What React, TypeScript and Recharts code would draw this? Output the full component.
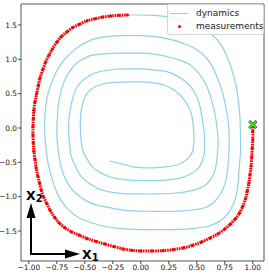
import React from "react";
import { ScatterChart, Scatter, XAxis, YAxis, ReferenceArea } from "recharts";

const xTicks = [-1, -0.75, -0.5, -0.25, 0, 0.25, 0.5, 0.75, 1];
const yTicks = [-1.5, -1, -0.5, 0, 0.5, 1, 1.5];
const seriesNames = ["dynamics", "measurements"];
const axisLabels = ["X", "1", "X", "2"];

// measured states, clockwise from the initial state
const measurements: [number, number][] = [
  [1.0, 0.05], [1.0, -0.05], [1.0, -0.17], [0.995, -0.3], [0.99, -0.42], [0.985, -0.55],
  [0.975, -0.68], [0.965, -0.8], [0.95, -0.92], [0.935, -1.03], [0.91, -1.14], [0.88, -1.24],
  [0.845, -1.32], [0.8, -1.4], [0.75, -1.47], [0.69, -1.54], [0.62, -1.6], [0.54, -1.66],
  [0.46, -1.71], [0.38, -1.745], [0.29, -1.77], [0.2, -1.785], [0.1, -1.79], [0.0, -1.79],
  [-0.08, -1.78], [-0.16, -1.76], [-0.24, -1.725], [-0.32, -1.69], [-0.4, -1.65], [-0.48, -1.61],
  [-0.55, -1.56], [-0.62, -1.51], [-0.68, -1.45], [-0.73, -1.38], [-0.77, -1.3], [-0.81, -1.2],
  [-0.84, -1.1], [-0.87, -1.0], [-0.89, -0.9], [-0.905, -0.8], [-0.92, -0.7], [-0.935, -0.58],
  [-0.945, -0.46], [-0.955, -0.34], [-0.96, -0.22], [-0.963, -0.1], [-0.963, 0.02], [-0.96, 0.14],
  [-0.955, 0.26], [-0.945, 0.38], [-0.93, 0.5], [-0.915, 0.62], [-0.9, 0.73], [-0.875, 0.85],
  [-0.85, 0.96], [-0.82, 1.06], [-0.79, 1.15], [-0.75, 1.25], [-0.71, 1.33], [-0.66, 1.4],
  [-0.61, 1.46], [-0.55, 1.51], [-0.48, 1.56], [-0.41, 1.59], [-0.34, 1.615], [-0.27, 1.63],
  [-0.2, 1.64], [-0.12, 1.645],
];

// simulated trajectory continuing from the last measurement
const dynamics: [number, number][] = [
  [-0.12, 1.645], [0.0, 1.645], [0.12, 1.64], [0.23, 1.62], [0.35, 1.58], [0.47, 1.52],
  [0.56, 1.45], [0.65, 1.34], [0.72, 1.2], [0.77, 1.04], [0.81, 0.86], [0.85, 0.62],
  [0.87, 0.4], [0.885, 0.16], [0.89, -0.1], [0.89, -0.35], [0.88, -0.55], [0.87, -0.78],
  [0.85, -1.0], [0.81, -1.16], [0.76, -1.28], [0.69, -1.37], [0.6, -1.43], [0.48, -1.46],
  [0.36, -1.475], [0.22, -1.48], [0.08, -1.48], [-0.06, -1.475], [-0.2, -1.46], [-0.33, -1.43],
  [-0.44, -1.38], [-0.55, -1.31], [-0.64, -1.2], [-0.71, -1.06], [-0.76, -0.9], [-0.8, -0.7],
  [-0.83, -0.5], [-0.85, -0.25], [-0.86, 0.0], [-0.855, 0.22], [-0.84, 0.42], [-0.81, 0.6],
  [-0.76, 0.8], [-0.7, 0.96], [-0.62, 1.1], [-0.54, 1.2], [-0.43, 1.29], [-0.3, 1.33],
  [-0.16, 1.345], [0.0, 1.345], [0.14, 1.33], [0.29, 1.28], [0.4, 1.22], [0.5, 1.14],
  [0.58, 1.03], [0.64, 0.89], [0.69, 0.7], [0.73, 0.51], [0.76, 0.3], [0.78, 0.1],
  [0.79, -0.17], [0.785, -0.4], [0.775, -0.61], [0.75, -0.82], [0.71, -0.96], [0.66, -1.07],
  [0.59, -1.15], [0.48, -1.19], [0.35, -1.21], [0.18, -1.215], [0.0, -1.21], [-0.14, -1.2],
  [-0.28, -1.16], [-0.4, -1.12], [-0.5, -1.05], [-0.58, -0.95], [-0.64, -0.84], [-0.69, -0.68],
  [-0.72, -0.51], [-0.74, -0.3], [-0.75, -0.05], [-0.745, 0.15], [-0.735, 0.36], [-0.71, 0.55],
  [-0.68, 0.7], [-0.63, 0.84], [-0.57, 0.95], [-0.5, 1.02], [-0.43, 1.06], [-0.32, 1.08],
  [-0.21, 1.09], [-0.1, 1.09], [0.0, 1.09], [0.12, 1.075], [0.26, 1.03], [0.36, 0.98],
  [0.44, 0.92], [0.51, 0.81], [0.57, 0.67], [0.61, 0.52], [0.64, 0.36], [0.665, 0.18],
  [0.68, 0.01], [0.69, -0.17], [0.685, -0.35], [0.675, -0.51], [0.655, -0.65], [0.62, -0.76],
  [0.57, -0.84], [0.5, -0.89], [0.4, -0.93], [0.29, -0.95], [0.15, -0.96], [0.0, -0.96],
  [-0.16, -0.955], [-0.28, -0.93], [-0.37, -0.89], [-0.45, -0.82], [-0.53, -0.71], [-0.58, -0.57],
  [-0.62, -0.42], [-0.635, -0.25], [-0.645, -0.03], [-0.64, 0.15], [-0.63, 0.28], [-0.61, 0.42],
  [-0.585, 0.55], [-0.54, 0.66], [-0.48, 0.74], [-0.41, 0.8], [-0.34, 0.83], [-0.23, 0.855],
  [-0.12, 0.86], [0.0, 0.86], [0.12, 0.845], [0.23, 0.82], [0.31, 0.77], [0.38, 0.7],
  [0.45, 0.59], [0.5, 0.45], [0.53, 0.3], [0.55, 0.12], [0.565, -0.05], [0.57, -0.17],
  [0.57, -0.3], [0.56, -0.42], [0.535, -0.53], [0.5, -0.61], [0.43, -0.68], [0.35, -0.73],
  [0.25, -0.755], [0.14, -0.765], [0.0, -0.765], [-0.1, -0.76], [-0.2, -0.74], [-0.28, -0.71],
  [-0.36, -0.65], [-0.43, -0.57], [-0.48, -0.45], [-0.52, -0.32], [-0.535, -0.15], [-0.54, -0.03],
  [-0.54, 0.1], [-0.535, 0.22], [-0.52, 0.35], [-0.5, 0.45], [-0.46, 0.54], [-0.41, 0.6],
  [-0.34, 0.64], [-0.25, 0.66], [-0.12, 0.67], [0.0, 0.67], [0.1, 0.66], [0.2, 0.63],
  [0.28, 0.57], [0.35, 0.48], [0.4, 0.38], [0.44, 0.26], [0.46, 0.14], [0.47, 0.01],
  [0.475, -0.17], [0.465, -0.32], [0.44, -0.41], [0.4, -0.47], [0.35, -0.52], [0.29, -0.55],
  [0.2, -0.57], [0.11, -0.58], [0.0, -0.578], [-0.07, -0.565], [-0.13, -0.54], [-0.2, -0.51],
  [-0.28, -0.48],
];

const initialState: [number, number][] = [[1.0, 0.05]];

const toPts = (arr: [number, number][]) => arr.map(([x, y]) => ({ x, y }));

const xDomain: [number, number] = [-1.07, 1.1];
const yDomain: [number, number] = [-1.936, 1.805];

const font = "'DejaVu Sans', sans-serif";
const blue = "#8fd0ec";

const minus = (s: string) => s.replace("-", "\u2212");

function RedDot(props: any) {
  const { cx, cy } = props;
  return <circle cx={cx} cy={cy} r={1.6} fill="#ff0000" />;
}

function XMarker(props: any) {
  const { cx, cy } = props;
  const a = 1.6;
  const b = 4.2;
  const d = `M${cx - b},${cy - b + a} L${cx - b + a},${cy - b} L${cx},${cy - a} L${cx + b - a},${cy - b} L${cx + b},${cy - b + a} L${cx + a},${cy} L${cx + b},${cy + b - a} L${cx + b - a},${cy + b} L${cx},${cy + a} L${cx - b + a},${cy + b} L${cx - b},${cy + b - a} L${cx - a},${cy} Z`;
  return <path d={d} fill="#33ee00" stroke="#225511" strokeWidth={0.8} />;
}

export default function App() {
  return (
    <div style={{ position: "absolute", left: 0, top: 0, width: 269, height: 277, fontFamily: font }}>
      <ScatterChart width={269} height={277} margin={{ top: 4, right: 5, bottom: 0, left: 0 }}>
        <XAxis
          type="number"
          dataKey="x"
          domain={xDomain}
          ticks={xTicks}
          allowDataOverflow
          height={16}
          axisLine={false}
          tickSize={3}
          tickMargin={1}
          tickLine={{ stroke: "#444" }}
          tick={{ fontSize: 7.4, fill: "#222", fontFamily: font }}
          tickFormatter={(v: number) => minus(v.toFixed(2))}
        />
        <YAxis
          type="number"
          dataKey="y"
          domain={yDomain}
          ticks={yTicks}
          allowDataOverflow
          width={21}
          axisLine={false}
          tickSize={3}
          tickMargin={1}
          tickLine={{ stroke: "#444" }}
          tick={{ fontSize: 7.4, fill: "#222", fontFamily: font }}
          tickFormatter={(v: number) => minus(v.toFixed(1))}
        />
        <ReferenceArea
          x1={xDomain[0]}
          x2={xDomain[1]}
          y1={yDomain[0]}
          y2={yDomain[1]}
          fill="none"
          stroke="#444"
          strokeWidth={0.9}
          ifOverflow="visible"
        />
        <Scatter
          name={seriesNames[0]}
          data={toPts(dynamics)}
          line={{ stroke: blue, strokeWidth: 1.2 }}
          lineJointType="natural"
          shape={() => <g />}
          isAnimationActive={false}
        />
        <Scatter
          name={seriesNames[1]}
          data={toPts(measurements)}
          line={{ stroke: "#ff0000", strokeWidth: 3, strokeDasharray: "1.6 0.8" }}
          lineJointType="natural"
          shape={RedDot}
          isAnimationActive={false}
        />
        <Scatter data={toPts(initialState)} shape={XMarker} isAnimationActive={false} />
      </ScatterChart>

      {/* state-space orientation arrows */}
      <svg width={269} height={277} style={{ position: "absolute", left: 0, top: 0, pointerEvents: "none" }}>
        <line x1={31} y1={255} x2={31} y2={216} stroke="#000" strokeWidth={2} />
        <polygon points="31,203 26.5,218 35.5,218" fill="#000" />
        <line x1={30} y1={254} x2={67} y2={254} stroke="#000" strokeWidth={2} />
        <polygon points="80,254 65,249.5 65,258.5" fill="#000" />
        <text x={82} y={259} fontSize={12.5} fontWeight="bold" fontFamily={font}>
          {axisLabels[0]}
          <tspan fontSize={10} dy={1.5}>{axisLabels[1]}</tspan>
        </text>
        <text x={26} y={200} fontSize={12.5} fontWeight="bold" fontFamily={font}>
          {axisLabels[2]}
          <tspan fontSize={10} dy={1.5}>{axisLabels[3]}</tspan>
        </text>
      </svg>

      <div
        style={{
          position: "absolute",
          left: 167,
          top: 4,
          width: 97,
          height: 31,
          boxSizing: "border-box",
          border: "1px solid #d6d6d6",
          borderRadius: 2,
          background: "rgba(255,255,255,0.8)",
          fontSize: 9,
          color: "#222",
          lineHeight: "13px",
        }}
      >
        <div style={{ position: "absolute", left: 2, top: 2, display: "flex", alignItems: "center" }}>
          <span style={{ display: "inline-block", width: 18, height: 1, background: blue, marginRight: 8 }} />
          <span>{seriesNames[0]}</span>
        </div>
        <div style={{ position: "absolute", left: 2, top: 15, display: "flex", alignItems: "center" }}>
          <span style={{ display: "inline-block", width: 18, height: 3, marginRight: 8, position: "relative" }}>
            <span style={{ position: "absolute", left: 8, top: 0, width: 3, height: 3, borderRadius: 2, background: "#ff0000" }} />
          </span>
          <span>{seriesNames[1]}</span>
        </div>
      </div>
    </div>
  );
}
